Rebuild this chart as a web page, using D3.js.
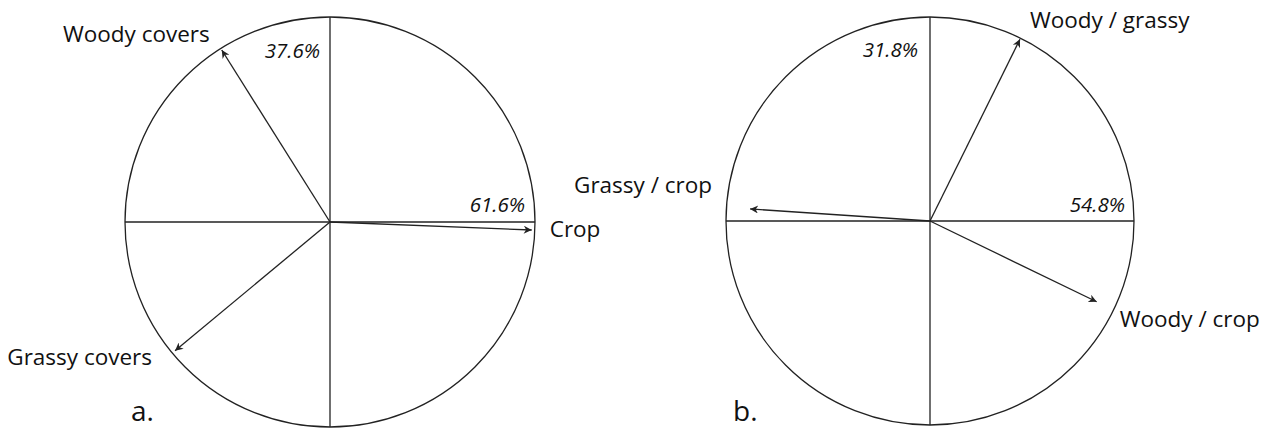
<!DOCTYPE html>
<html>
<head>
<meta charset="utf-8">
<script src="https://cdn.jsdelivr.net/npm/d3@7"></script>
<style>
  html, body { margin: 0; padding: 0; background: #fff; }
  svg { display: block; }
  text { font-family: "Open Sans", sans-serif; fill: #111; }
</style>
</head>
<body>
<svg id="chart" width="1273" height="430"></svg>
<script>
// ---- Data ----
const panels = ["a.", "b."];

// Panel a: variable loadings (x = axis 1, y = axis 2)
const varsA = ["Woody covers", "Crop", "Grassy covers"];
const loadXA = [-0.528, 0.984, -0.756];
const loadYA = [0.839, -0.039, -0.628];
const axisPctA = ["61.6%", "37.6%"];

// Panel b: variable loadings
const varsB = ["Woody / grassy", "Grassy / crop", "Woody / crop"];
const loadXB = [0.441, -0.882, 0.817];
const loadYB = [0.891, 0.059, -0.396];
const axisPctB = ["54.8%", "31.8%"];

// ---- Layout (not data) ----
const layout = [
  { cx: 330, cy: 222, r: 205, letterX: 131, letterY: 421,
    labelPos: [ {anchor: "end", dx: -12, dy: -8}, {anchor: "start", dx: 18, dy: 7}, {anchor: "end", dx: -23, dy: 14} ],
    pct1: {dx: -10, dy: -10}, pct2: {dx: -10, dy: -164} },
  { cx: 930, cy: 221, r: 204, letterX: 733, letterY: 421,
    labelPos: [ {anchor: "start", dx: 10, dy: -11}, {anchor: "end", dx: -38, dy: -16}, {anchor: "start", dx: 23, dy: 25} ],
    pct1: {dx: -9, dy: -9}, pct2: {dx: -12, dy: -164} }
];

const panelData = [
  { names: varsA, lx: loadXA, ly: loadYA, pct: axisPctA },
  { names: varsB, lx: loadXB, ly: loadYB, pct: axisPctB }
];

const svg = d3.select("#chart");
const stroke = "#222";

svg.append("defs").append("marker")
  .attr("id", "arrow")
  .attr("viewBox", "0 0 10 10")
  .attr("refX", 10).attr("refY", 5)
  .attr("markerUnits", "userSpaceOnUse")
  .attr("markerWidth", 11).attr("markerHeight", 8)
  .attr("orient", "auto")
  .append("path")
  .attr("d", "M0,0 L10,5 L0,10 L3,5 Z")
  .attr("fill", stroke);

panelData.forEach((pd, i) => {
  const L = layout[i];
  const x = d3.scaleLinear().domain([-1, 1]).range([L.cx - L.r, L.cx + L.r]);
  const y = d3.scaleLinear().domain([-1, 1]).range([L.cy + L.r, L.cy - L.r]);
  const g = svg.append("g");

  // circle
  g.append("circle")
    .attr("cx", x(0)).attr("cy", y(0))
    .attr("r", x(1) - x(0))
    .attr("fill", "none").attr("stroke", stroke).attr("stroke-width", 1.3);

  // axes
  g.append("line")
    .attr("x1", x(-1)).attr("x2", x(1)).attr("y1", y(0)).attr("y2", y(0))
    .attr("stroke", stroke).attr("stroke-width", 1.3);
  g.append("line")
    .attr("x1", x(0)).attr("x2", x(0)).attr("y1", y(-1)).attr("y2", y(1))
    .attr("stroke", stroke).attr("stroke-width", 1.3);

  // axis percentages
  g.append("text")
    .attr("x", x(1) + L.pct1.dx).attr("y", y(0) + L.pct1.dy)
    .attr("text-anchor", "end")
    .style("font-style", "italic").style("font-size", "20.5px")
    .text(pd.pct[0]);
  g.append("text")
    .attr("x", x(0) + L.pct2.dx).attr("y", y(0) + L.pct2.dy)
    .attr("text-anchor", "end")
    .style("font-style", "italic").style("font-size", "20.5px")
    .text(pd.pct[1]);

  // arrows
  pd.names.forEach((name, j) => {
    const tx = x(pd.lx[j]), ty = y(pd.ly[j]);
    g.append("line")
      .attr("x1", x(0)).attr("y1", y(0))
      .attr("x2", tx).attr("y2", ty)
      .attr("stroke", stroke).attr("stroke-width", 1.3)
      .attr("marker-end", "url(#arrow)");
    const lp = L.labelPos[j];
    g.append("text")
      .attr("x", tx + lp.dx).attr("y", ty + lp.dy)
      .attr("text-anchor", lp.anchor)
      .style("font-size", "22.5px")
      .text(name);
  });

  // panel letter
  g.append("text")
    .attr("x", L.letterX).attr("y", L.letterY)
    .style("font-size", "28px")
    .text(panels[i]);
});
</script>
</body>
</html>
